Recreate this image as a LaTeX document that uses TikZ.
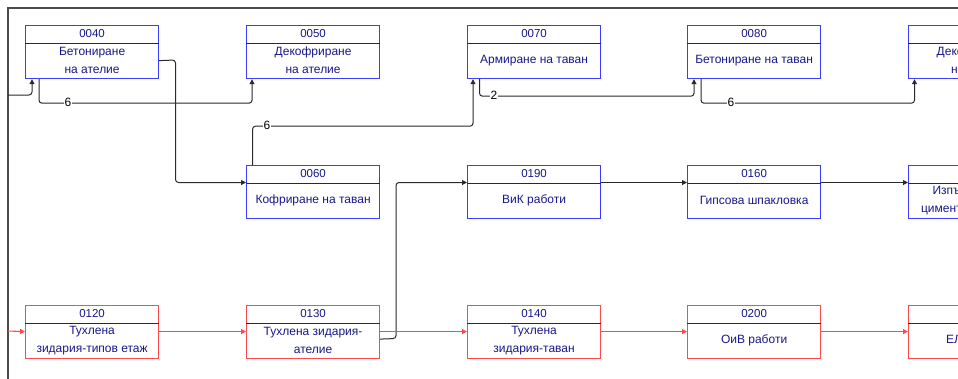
\documentclass[tikz,border=0pt]{standalone}
\usepackage{fontspec}
\setmainfont{Liberation Sans}
\usetikzlibrary{calc,arrows.meta}
\definecolor{bbord}{HTML}{3C3CFF}
\definecolor{rbord}{HTML}{FF4A4A}
\definecolor{navy}{HTML}{18188A}
\definecolor{conncol}{HTML}{2A2A2A}
\definecolor{framecol}{HTML}{4A4A4A}
\tikzset{
  taskbox/.style={draw, line width=1.2pt, fill=white, anchor=north west, minimum width=133pt, minimum height=53pt, inner sep=0pt},
  bluebox/.style={taskbox, draw=bbord},
  redbox/.style={taskbox, draw=rbord},
  hdr/.style={draw=conncol, line width=1pt},
  code/.style={text=navy, font=\fontsize{11.5}{12}\selectfont, inner sep=0pt},
  txt/.style={text=navy, font=\fontsize{12}{18}\selectfont, align=center, inner sep=0pt},
  conn/.style={draw=conncol, line width=1pt, rounded corners=3pt, -{Triangle[length=5pt,width=5pt]}},
  rconn/.style={draw=rbord, line width=1.1pt, -{Triangle[length=5pt,width=5pt]}},
  lbl/.style={fill=white, inner sep=1pt, font=\fontsize{12}{12}\selectfont, text=black},
  framestyle/.style={draw=framecol, line width=1.8pt}
}
\newcommand{\taskhdr}[2]{%
  \draw[hdr] ($(#1.north west)+(0,18)$) -- ($(#1.north east)+(0,18)$);
  \node[code] (#1c) at ($(#1.north)+(0,9)$) {#2};}
\newcommand{\taskline}[1]{%
  \draw[hdr] ($(#1.north west)+(0,18)$) -- ($(#1.north east)+(0,18)$);}
\begin{document}
\begin{tikzpicture}[x=1pt,y=-1pt]
\useasboundingbox (0,0) rectangle (958,378);
\clip (0,0) rectangle (958,378);
\fill[white] (0,0) rectangle (958,378);
% frame
\draw[framestyle] (8,380) -- (8,8) -- (960,8);
% row 1
\node[bluebox] (b040) at (25,25) {};
\node[bluebox] (b050) at (246,25) {};
\node[bluebox] (b070) at (467,25) {};
\node[bluebox] (b080) at (687,25) {};
\node[bluebox] (b090) at (908,25) {};
% row 2
\node[bluebox] (b060) at (246,165) {};
\node[bluebox] (b190) at (467,165) {};
\node[bluebox] (b160) at (687,165) {};
\node[bluebox] (b170) at (908,165) {};
% row 3
\node[redbox] (b120) at (25,305) {};
\node[redbox] (b130) at (246,305) {};
\node[redbox] (b140) at (467,305) {};
\node[redbox] (b200) at (687,305) {};
\node[redbox] (b210) at (908,305) {};
% headers
\taskhdr{b040}{0040}
\taskhdr{b050}{0050}
\taskhdr{b070}{0070}
\taskhdr{b080}{0080}
\taskline{b090}
\taskhdr{b060}{0060}
\taskhdr{b190}{0190}
\taskhdr{b160}{0160}
\taskline{b170}
\taskhdr{b120}{0120}
\taskhdr{b130}{0130}
\taskhdr{b140}{0140}
\taskhdr{b200}{0200}
\taskline{b210}
% body texts
\node[txt] (t040) at ($(b040.center)+(0,8.5)$) {Бетониране\\на ателие};
\node[txt] (t050) at ($(b050.center)+(0,8.5)$) {Декофриране\\на ателие};
\node[txt] (t070) at ($(b070.center)+(0,8.5)$) {Армиране на таван};
\node[txt] (t080) at ($(b080.center)+(0,8.5)$) {Бетониране на таван};
\node[txt] (t090) at ($(b090.center)+(0,8.5)$) {Декофриране\\на таван};
\node[txt] (t060) at ($(b060.center)+(0,8.5)$) {Кофриране на таван};
\node[txt] (t190) at ($(b190.center)+(0,8.5)$) {ВиК работи};
\node[txt] (t160) at ($(b160.center)+(0,8.5)$) {Гипсова шпакловка};
\node[txt] (t170) at ($(b170.center)+(0,8.5)$) {Изпълнение на\\циментова замазка};
\node[txt] (t120) at ($(b120.center)+(0,8.5)$) {Тухлена\\зидария-типов етаж};
\node[txt] (t130) at ($(b130.center)+(0,8.5)$) {Тухлена зидария-\\ателие};
\node[txt] (t140) at ($(b140.center)+(0,8.5)$) {Тухлена\\зидария-таван};
\node[txt] (t200) at ($(b200.center)+(0,8.5)$) {ОиВ работи};
\node[txt] (t210) at ($(b210.center)+(0,8.5)$) {ЕЛ работи};
% free ends
\coordinate (in040) at (8,95);
\coordinate (in120) at (8,331);
% black connectors
\draw[conn] (in040) -| ($(b040.south west)+(7,0)$);
\draw[conn] ($(b040.south west)+(14,0)$) |- ($(b050.south west)+(6,24)$) -- ($(b050.south west)+(6,0)$);
\draw[conn] ($(b040.east)+(0,8.5)$) -- (175.5,60) |- ($(b060.north west)+(0,17.5)$);
\draw[conn] ($(b060.north west)+(6.5,0)$) |- ($(b070.south west)+(6,47)$) -- ($(b070.south west)+(6,0)$);
\draw[conn] ($(b070.south west)+(12.5,0)$) |- ($(b080.south west)+(7,17)$) -- ($(b080.south west)+(7,0)$);
\draw[conn] ($(b080.south west)+(14,0)$) |- ($(b090.south west)+(6.5,24)$) -- ($(b090.south west)+(6.5,0)$);
\draw[conn] ($(b190.north east)+(0,17.5)$) -- ($(b160.north west)+(0,17.5)$);
\draw[conn] ($(b160.north east)+(0,17.5)$) -- ($(b170.north west)+(0,17.5)$);
\draw[conn] ($(b130.east)+(0,7)$) -- (396,338.5) |- ($(b190.north west)+(0,17.5)$);
% labels
\node[lbl] (l1) at (68,102) {6};
\node[lbl] (l2) at (267,125) {6};
\node[lbl] (l3) at (494,95) {2};
\node[lbl] (l4) at (731,102) {6};
% red connectors
\draw[rconn] (in120) -- ($(b120.west)+(0,-0.5)$);
\draw[rconn] ($(b120.east)+(0,-0.5)$) -- ($(b130.west)+(0,-0.5)$);
\draw[rconn] ($(b130.east)+(0,-0.5)$) -- ($(b140.west)+(0,-0.5)$);
\draw[rconn] ($(b140.east)+(0,-0.5)$) -- ($(b200.west)+(0,-0.5)$);
\draw[rconn] ($(b200.east)+(0,-0.5)$) -- ($(b210.west)+(0,-0.5)$);
\end{tikzpicture}
\end{document}
